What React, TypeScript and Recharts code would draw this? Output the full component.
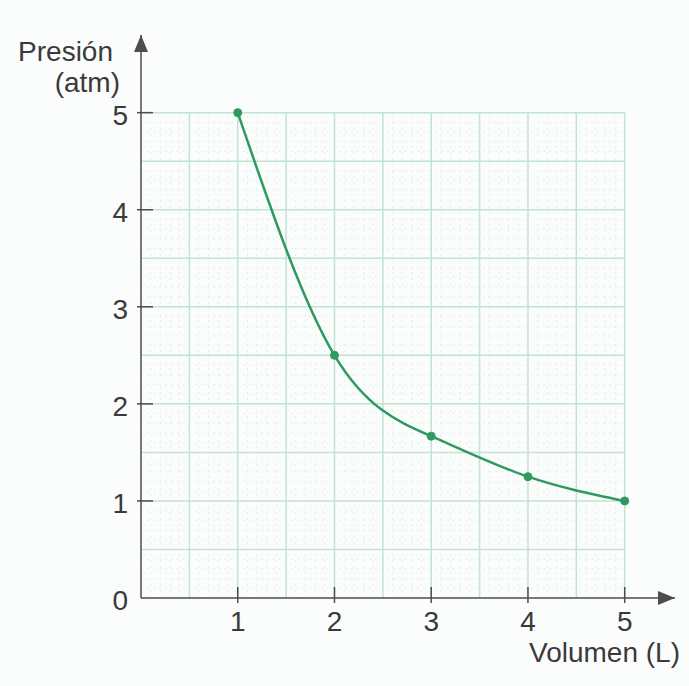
import React from 'react'
import {
  LineChart, Line, XAxis, YAxis, ReferenceLine, ReferenceDot,
} from 'recharts'

// volumen (L) y presión (atm)
const volumes = [1, 2, 3, 4, 5]
const pressures = [5, 2.5, 1.667, 1.25, 1]
const xTicks = [1, 2, 3, 4, 5]
const yTicks = [0, 1, 2, 3, 4, 5]
const gridMajor = [0.5, 1, 1.5, 2, 2.5, 3, 3.5, 4, 4.5, 5]
const gridMinor = [
  0.1, 0.2, 0.3, 0.4, 0.6, 0.7, 0.8, 0.9, 1.1, 1.2, 1.3, 1.4, 1.6, 1.7, 1.8, 1.9,
  2.1, 2.2, 2.3, 2.4, 2.6, 2.7, 2.8, 2.9, 3.1, 3.2, 3.3, 3.4, 3.6, 3.7, 3.8, 3.9,
  4.1, 4.2, 4.3, 4.4, 4.6, 4.7, 4.8, 4.9,
]

const data = volumes.map((v, i) => ({ v, p: pressures[i] }))

const FONT = '"Liberation Sans", Arial, sans-serif'
const FS = 28
const AXIS = '#4d4d4d'
const TEXT = '#3a3a3a'
const GREEN = '#2f9a5f'
const GRID = '#c2e4d0'
const GRID_MINOR = '#e4efe8'
const X_MAX = 5.52
const Y_MAX = 5.8

const XTick = (props: any) => {
  const { x, y, payload } = props
  return (
    <g>
      <line x1={x} x2={x} y1={y - 11} y2={y + 5} stroke={AXIS} strokeWidth={1.5} />
      <text x={x} y={y + 33} textAnchor="middle" fontSize={FS} fill={TEXT} fontFamily={FONT}>
        {payload.value}
      </text>
    </g>
  )
}

const YTick = (props: any) => {
  const { x, y, payload } = props
  return (
    <g>
      {payload.value !== 0 && (
        <line x1={x - 4} x2={x + 12} y1={y} y2={y} stroke={AXIS} strokeWidth={1.5} />
      )}
      <text x={x - 13} y={y + 12} textAnchor="end" fontSize={FS} fill={TEXT} fontFamily={FONT}>
        {payload.value}
      </text>
    </g>
  )
}

const ArrowRight = (props: any) => (
  <path d={`M${props.cx},${props.cy} L${props.cx - 17},${props.cy - 7} L${props.cx - 17},${props.cy + 7} Z`} fill={AXIS} />
)
const ArrowUp = (props: any) => (
  <path d={`M${props.cx},${props.cy} L${props.cx - 7},${props.cy + 17} L${props.cx + 7},${props.cy + 17} Z`} fill={AXIS} />
)

export default function App() {
  return (
    <div style={{ position: 'absolute', left: 0, top: 0, width: 689, height: 686, background: '#fbfcfc' }}>
      <LineChart width={689} height={686} data={data} margin={{ top: 35, right: 14, left: 0, bottom: 0 }}>
        {gridMinor.map((g) => (
          <ReferenceLine key={'mx' + g} segment={[{ x: g, y: 0 }, { x: g, y: 5 }]} stroke={GRID_MINOR} strokeDasharray="2 4" ifOverflow="visible" />
        ))}
        {gridMinor.map((g) => (
          <ReferenceLine key={'my' + g} segment={[{ x: 0, y: g }, { x: 5, y: g }]} stroke={GRID_MINOR} strokeDasharray="2 4" ifOverflow="visible" />
        ))}
        {gridMajor.map((g) => (
          <ReferenceLine key={'x' + g} segment={[{ x: g, y: 0 }, { x: g, y: 5 }]} stroke={GRID} strokeWidth={1.5} ifOverflow="visible" />
        ))}
        {gridMajor.map((g) => (
          <ReferenceLine key={'y' + g} segment={[{ x: 0, y: g }, { x: 5, y: g }]} stroke={GRID} strokeWidth={1.5} ifOverflow="visible" />
        ))}
        <XAxis
          dataKey="v"
          type="number"
          domain={[0, X_MAX]}
          ticks={xTicks}
          height={88}
          tickSize={0}
          tickMargin={0}
          stroke={AXIS}
          strokeWidth={1.5}
          tick={<XTick />}
          interval={0}
        />
        <YAxis
          type="number"
          domain={[0, Y_MAX]}
          ticks={yTicks}
          width={141}
          tickSize={0}
          tickMargin={0}
          stroke={AXIS}
          strokeWidth={1.5}
          tick={<YTick />}
          interval={0}
        />
        <ReferenceDot x={X_MAX} y={0} r={0} shape={<ArrowRight />} ifOverflow="visible" />
        <ReferenceDot x={0} y={Y_MAX} r={0} shape={<ArrowUp />} ifOverflow="visible" />
        <Line
          type="natural"
          dataKey="p"
          stroke={GREEN}
          strokeWidth={2.5}
          dot={{ r: 4, fill: GREEN, stroke: GREEN, strokeWidth: 1 }}
          isAnimationActive={false}
        />
      </LineChart>
      <svg width={689} height={686} style={{ position: 'absolute', left: 0, top: 0, pointerEvents: 'none' }}>
        <text x={113} y={61} textAnchor="end" fontSize={FS} fill={TEXT} fontFamily={FONT}>Presión</text>
        <text x={120} y={92} textAnchor="end" fontSize={FS} fill={TEXT} fontFamily={FONT}>(atm)</text>
        <text x={680} y={662} textAnchor="end" fontSize={FS} fill={TEXT} fontFamily={FONT}>Volumen (L)</text>
      </svg>
    </div>
  )
}
